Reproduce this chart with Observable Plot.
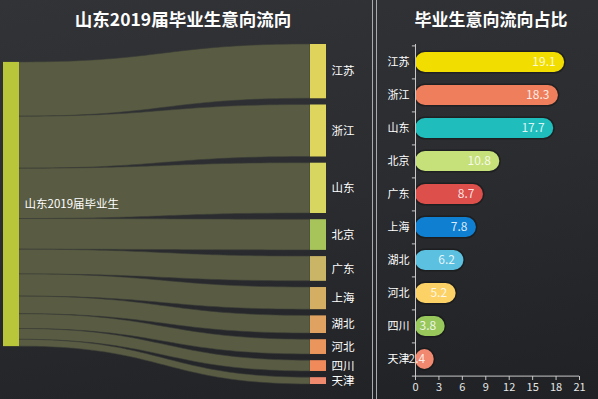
<!DOCTYPE html>
<html><head><meta charset="utf-8">
<script src="https://cdn.jsdelivr.net/npm/d3@7"></script>
<script src="https://cdn.jsdelivr.net/npm/@observablehq/plot@0.6"></script>
<style>
body{margin:0;background:#222427;}
#wrap{position:relative;width:598px;height:399px;overflow:hidden;
 background:linear-gradient(170deg,#313337 0%,#2a2c2f 50%,#1f2124 100%);
 font-family:"Noto Sans CJK SC","Noto Sans",sans-serif;}
#wrap svg{position:absolute;left:0;top:0;background:transparent;}
.title{position:absolute;color:#fff;font-weight:bold;white-space:nowrap;transform:translate(-50%,-50%);line-height:1;}
.vline{position:absolute;top:0;height:399px;width:1px;background:#a8aaad;}
</style></head>
<body><div id="wrap">
<div class="title" style="left:183px;top:19px;font-size:17.5px;">山东2019届毕业生意向流向</div>
<div class="title" style="left:491px;top:18px;font-size:17px;">毕业生意向流向占比</div>
<div class="vline" style="left:372px"></div>
<div class="vline" style="left:376px"></div>
</div>
<script>
const sourceName = "山东2019届毕业生";
const provinces = ["江苏","浙江","山东","北京","广东","上海","湖北","河北","四川","天津"];
const shares = [19.1,18.3,17.7,10.8,8.7,7.8,6.2,5.2,3.8,2.4];
const barColors = ["#f2dd00","#ef7f5c","#20bdbd","#c6e07a","#dc4f4b","#0f7fd1","#5cc0e0","#fcd266","#98c75c","#f08970"];
const nodeColors = ["#dfd35c","#ddd55e","#d6d660","#a7c45a","#c9b565","#d3ae63","#dfa260","#e9955c","#f08a5a","#f08a6e"];
const sourceColor = "#b9c63a";
const linkColor = "#595c42";
const xTicks = [0,3,6,9,12,15,18,21];

const W = 598, H = 399;
const wrap = document.getElementById("wrap");

// ---- Sankey layout (computed from data) ----
const gap = 2.18, srcOffset = 6.3, nodeW = 16/323;
const total = d3.sum(shares);
let cum = 0;
const targets = provinces.map((p, i) => {
  const t0 = cum + i * gap, s0 = srcOffset + cum;
  cum += shares[i];
  return {name: p, value: shares[i], t0, t1: t0 + shares[i], s0, s1: s0 + shares[i], color: nodeColors[i]};
});
const yMax = total + (provinces.length - 1) * gap;
const linkPts = [];
const N = 48;
for (const t of targets) {
  for (let k = 0; k <= N; k++) {
    const u = k / N;
    const f = 1.5*u - 1.5*u*u + u*u*u;
    const g = u*u*(3 - 2*u);
    linkPts.push({target: t.name,
      x: nodeW + (1 - 2*nodeW) * f,
      a: t.s0 + (t.t0 - t.s0) * g,
      b: t.s1 + (t.t1 - t.s1) * g});
  }
}
const nodes = [{name: sourceName, x1: 0, x2: nodeW, y1: srcOffset, y2: srcOffset + total, color: sourceColor},
  ...targets.map(t => ({name: t.name, x1: 1 - nodeW, x2: 1, y1: t.t0, y2: t.t1, color: t.color}))];

const left = Plot.plot({
  width: W, height: H,
  marginLeft: 3, marginRight: W - 326, marginTop: 44, marginBottom: 15,
  style: {background: "transparent", fontFamily: "'Noto Sans CJK SC',sans-serif"},
  x: {domain: [0, 1], axis: null},
  y: {domain: [0, yMax], reverse: true, axis: null},
  marks: [
    Plot.areaY(linkPts, {x: "x", y1: "a", y2: "b", z: "target", fill: linkColor, stroke: "#3b3d37", strokeWidth: 0.6, curve: "linear"}),
    Plot.rect(nodes, {x1: "x1", x2: "x2", y1: "y1", y2: "y2", fill: "color"}),
    Plot.text(targets, {x: 1, y: d => (d.t0 + d.t1) / 2, text: "name", dx: 5, textAnchor: "start", fill: "white", fontSize: 11.5}),
    Plot.text([nodes[0]], {x: "x2", y: d => (d.y1 + d.y2) / 2, text: "name", dx: 5, textAnchor: "start", fill: "white", fontSize: 11.5})
  ]
});
wrap.appendChild(left);

// ---- Bar chart ----
const bars = provinces.map((p, i) => ({name: p, value: shares[i], color: barColors[i]}));
const mTop = 44, mBottom = 23;
const step = (H - mTop - mBottom) / provinces.length;
const right = Plot.plot({
  width: W, height: H,
  marginLeft: 415, marginRight: 19, marginTop: mTop, marginBottom: mBottom,
  style: {background: "transparent", fontFamily: "'Noto Sans CJK SC',sans-serif"},
  x: {domain: [0, 21]},
  y: {domain: provinces, paddingInner: 0.4, paddingOuter: 0.2},
  marks: [
    Plot.barX(bars, {x: "value", y: "name", fill: "none", stroke: "#111", strokeOpacity: 0.45, strokeWidth: 3, rx: 10}),
    Plot.barX(bars, {x: "value", y: "name", fill: "color", rx: 10}),
    Plot.text(bars, {x: "value", y: "name", text: d => d.value.toFixed(1), dx: -9, textAnchor: "end", fill: "white", fillOpacity: 0.85, fontSize: 12}),
    Plot.ruleX([0], {stroke: "#c8c8c8"}),
    Plot.ruleY(provinces, {y: d => d, dy: -step / 2, x1: -0.4, x2: 0, stroke: "#c8c8c8"}),
    Plot.ruleY([provinces[provinces.length - 1]], {y: d => d, dy: step / 2, x1: -0.4, x2: 21, stroke: "#c8c8c8"}),
    Plot.axisY({tickSize: 0, tickPadding: 6, fill: "white", fontSize: 11, label: null}),
    Plot.axisX({ticks: xTicks, tickSize: 4, stroke: "#c8c8c8", fill: "#e6e6e6", fontSize: 11, tickPadding: 3, label: null})
  ]
});
wrap.appendChild(right);
</script>
</body></html>
